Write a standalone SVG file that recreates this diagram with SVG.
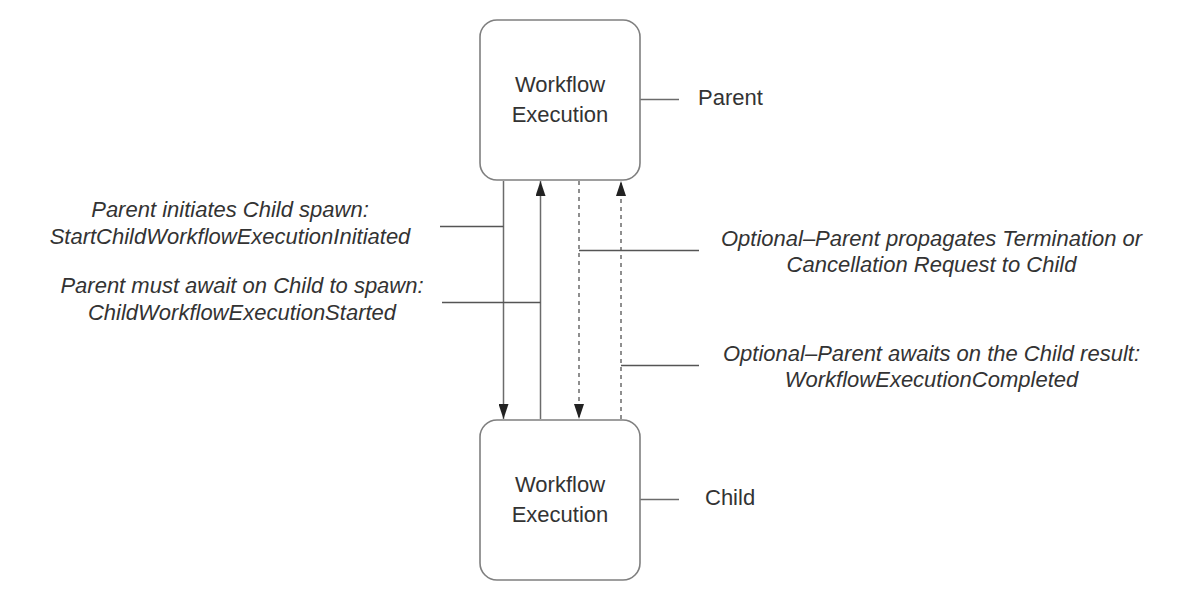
<svg xmlns="http://www.w3.org/2000/svg" width="1183" height="600" viewBox="0 0 1183 600">
<style>
.box{fill:#fff;stroke:#7f7f7f;stroke-width:1.6}
.t{font-family:"Liberation Sans",Arial,sans-serif;font-size:22px;fill:#333}
.i{font-style:italic;text-anchor:middle}
.c{text-anchor:middle}
.ln{stroke:#6b6b6b;stroke-width:1.5;fill:none}
.dl{stroke:#6b6b6b;stroke-width:1.5;fill:none;stroke-dasharray:4 4}
.lab{stroke:#555;stroke-width:1.3;fill:none}
</style>
<defs>
<marker id="ah2" viewBox="0 0 15 10" refX="15" refY="5" markerWidth="15" markerHeight="10" markerUnits="userSpaceOnUse" orient="auto">
<path d="M0,0 L15,5 L0,10 Z" fill="#222"/>
</marker>
</defs>
<rect width="1183" height="600" fill="#fff"/>
<g id="connectors">
<line class="ln" x1="503.5" y1="181" x2="503.5" y2="419" marker-end="url(#ah2)"/>
<line class="ln" x1="540.5" y1="419" x2="540.5" y2="181" marker-end="url(#ah2)"/>
<line class="dl" x1="579" y1="181" x2="579" y2="419" marker-end="url(#ah2)"/>
<line class="dl" x1="621" y1="419" x2="621" y2="181" marker-end="url(#ah2)"/>
<line class="lab" x1="440" y1="226.5" x2="503.5" y2="226.5"/>
<line class="lab" x1="442" y1="302.5" x2="540.5" y2="302.5"/>
<line class="lab" x1="579" y1="250.5" x2="699" y2="250.5"/>
<line class="lab" x1="621" y1="365.5" x2="699" y2="365.5"/>
<line class="ln" x1="640" y1="99.5" x2="679" y2="99.5"/>
<line class="ln" x1="640" y1="499.5" x2="679" y2="499.5"/>
</g>
<g id="parent">
<rect class="box" x="480" y="20" width="160" height="160" rx="17"/>
<text class="t c" x="560" y="91.7">Workflow</text>
<text class="t c" x="560" y="121.7">Execution</text>
</g>
<g id="child">
<rect class="box" x="480" y="420" width="160" height="160" rx="17"/>
<text class="t c" x="560" y="491.7">Workflow</text>
<text class="t c" x="560" y="521.7">Execution</text>
</g>
<g id="parent-label"><text class="t" x="698" y="104.5">Parent</text></g>
<g id="child-label"><text class="t" x="705" y="505">Child</text></g>
<g id="label-initiated">
<text class="t i" x="230" y="216.7">Parent initiates Child spawn:</text>
<text class="t i" x="230" y="244">StartChildWorkflowExecutionInitiated</text>
</g>
<g id="label-started">
<text class="t i" x="242" y="293.3">Parent must await on Child to spawn:</text>
<text class="t i" x="242" y="319.5">ChildWorkflowExecutionStarted</text>
</g>
<g id="label-cancel">
<text class="t i" x="931.5" y="245.7">Optional–Parent propagates Termination or</text>
<text class="t i" x="931.5" y="271.7">Cancellation Request to Child</text>
</g>
<g id="label-completed">
<text class="t i" x="931.5" y="360.7">Optional–Parent awaits on the Child result:</text>
<text class="t i" x="931.5" y="386.7">WorkflowExecutionCompleted</text>
</g>
</svg>
